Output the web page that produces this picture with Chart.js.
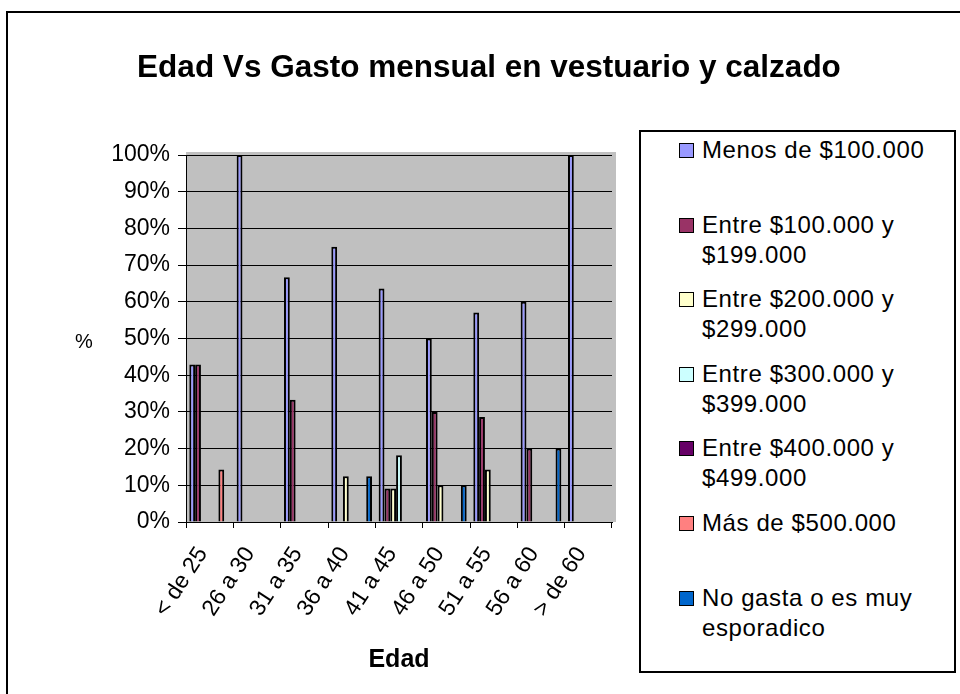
<!DOCTYPE html>
<html>
<head>
<meta charset="utf-8">
<script src="https://cdn.jsdelivr.net/npm/chart.js@4/dist/chart.umd.min.js"></script>
<style>
  body { margin: 0; background: #fff; font-family: "Liberation Sans", Arial, sans-serif; }
  #wrap { position: relative; width: 960px; height: 694px; overflow: hidden; }
  #frame { position: absolute; left: 6px; top: 11px; width: 1000px; height: 1000px; border: 2px solid #000; }
  #chart { position: absolute; left: 0; top: 0; }
  #title { position: absolute; left: 0; width: 978px; top: 48px; text-align: center; font-weight: bold; font-size: 31.5px; }
  #ytitle { position: absolute; left: 75px; top: 330px; font-size: 20px; }
  #legend { position: absolute; left: 639px; top: 130px; width: 313px; height: 539px; border: 2px solid #000; background: #fff; }
  .item { position: absolute; left: 38px; width: 270px; height: 74px; }
  .sw { position: absolute; left: 0; top: 8px; width: 13px; height: 13px; border: 1px solid #000; }
  .lbl { position: absolute; left: 23px; top: 0; width: 245px; font-size: 24px; line-height: 30px; letter-spacing: 0.6px; }
</style>
</head>
<body>
<div id="wrap">
  <div id="frame"></div>
  <canvas id="chart" width="960" height="694"></canvas>
  <div id="title">Edad Vs Gasto mensual en vestuario y calzado</div>
  <div id="ytitle">%</div>
  <div id="legend"></div>
</div>
<script>
const categories = ['< de 25', '26 a 30', '31 a 35', '36 a 40', '41 a 45', '46 a 50', '51 a 55', '56 a 60', '> de 60'];

const seriesNames = [
    'Menos de $100.000',
    'Entre $100.000 y $199.000',
    'Entre $200.000 y $299.000',
    'Entre $300.000 y $399.000',
    'Entre $400.000 y $499.000',
    'Más de $500.000',
    'No gasta o es muy esporadico'
];

const seriesColors = ['#9999FF', '#993366', '#FFFFCC', '#CCFFFF', '#660066', '#FF8080', '#0066CC'];

const menos100 = [42.9, 100, 66.7, 75, 63.6, 50, 57.1, 60, 100];
const entre100 = [42.9, null, 33.3, null, 9.1, 30, 28.6, 20, null];
const entre200 = [null, null, null, 12.5, 9.1, 10, 14.3, null, null];
const entre300 = [null, null, null, null, 18.2, null, null, null, null];
const entre400 = [null, null, null, null, null, null, null, null, null];
const mas500 = [14.3, null, null, null, null, null, null, null, null];
const noGasta = [null, null, null, 12.5, null, 10, null, 20, null];

const seriesValues = [menos100, entre100, entre200, entre300, entre400, mas500, noGasta];

const yTicks = [0, 10, 20, 30, 40, 50, 60, 70, 80, 90, 100];

// gray plot area like the old excel wall
const plotBackground = {
    id: 'plotBackground',
    beforeDraw(chart) {
        const { ctx, chartArea } = chart;
        ctx.save();
        ctx.fillStyle = '#C0C0C0';
        ctx.fillRect(chartArea.left, chartArea.top - 3, chartArea.width + 4, chartArea.height + 3);
        ctx.restore();
    }
};

const datasets = seriesNames.map((name, i) => ({
    label: name,
    data: seriesValues[i],
    backgroundColor: seriesColors[i],
    borderColor: '#000',
    borderWidth: 2,
    borderSkipped: 'bottom'
}));

const chart = new Chart(document.getElementById('chart'), {
    type: 'bar',
    data: { labels: categories, datasets: datasets },
    plugins: [plotBackground],
    options: {
        responsive: false,
        animation: false,
        layout: { padding: { left: 0, right: 348, top: 155, bottom: 0 } },
        datasets: { bar: { categoryPercentage: 0.86, barPercentage: 1.0 } },
        plugins: {
            legend: { display: false },
            tooltip: { enabled: false }
        },
        scales: {
            x: {
                afterFit(scale) { scale.height = 172; },
                grid: {
                    offset: true,
                    drawOnChartArea: false,
                    color: '#000',
                    tickLength: 6
                },
                border: { color: '#000', width: 1 },
                ticks: {
                    color: '#000',
                    font: { family: 'Liberation Sans', size: 23 },
                    minRotation: 57,
                    maxRotation: 57,
                    padding: 14,
                    labelOffset: -7,
                    autoSkip: false
                },
                title: {
                    display: true,
                    text: 'Edad',
                    color: '#000',
                    font: { family: 'Liberation Sans', size: 25, weight: 'bold' },
                    padding: { top: 19, bottom: 19 }
                }
            },
            y: {
                afterFit(scale) { scale.width = 186; },
                min: 0,
                max: 100,
                afterBuildTicks(scale) { scale.ticks = yTicks.map(v => ({ value: v })); },
                grid: { color: '#000', lineWidth: 1, tickLength: 8 },
                border: { color: '#000', width: 1 },
                ticks: {
                    color: '#000',
                    font: { family: 'Liberation Sans', size: 23 },
                    padding: 8,
                    callback: v => v + '%'
                }
            }
        }
    }
});

// legend built from the datasets
const legendEl = document.getElementById('legend');
chart.data.datasets.forEach((ds, i) => {
    const item = document.createElement('div');
    item.className = 'item';
    item.style.top = (3 + i * 74.6) + 'px';
    const sw = document.createElement('div');
    sw.className = 'sw';
    sw.style.background = ds.backgroundColor;
    const lbl = document.createElement('div');
    lbl.className = 'lbl';
    lbl.textContent = ds.label;
    item.appendChild(sw);
    item.appendChild(lbl);
    legendEl.appendChild(item);
});
</script>
</body>
</html>
